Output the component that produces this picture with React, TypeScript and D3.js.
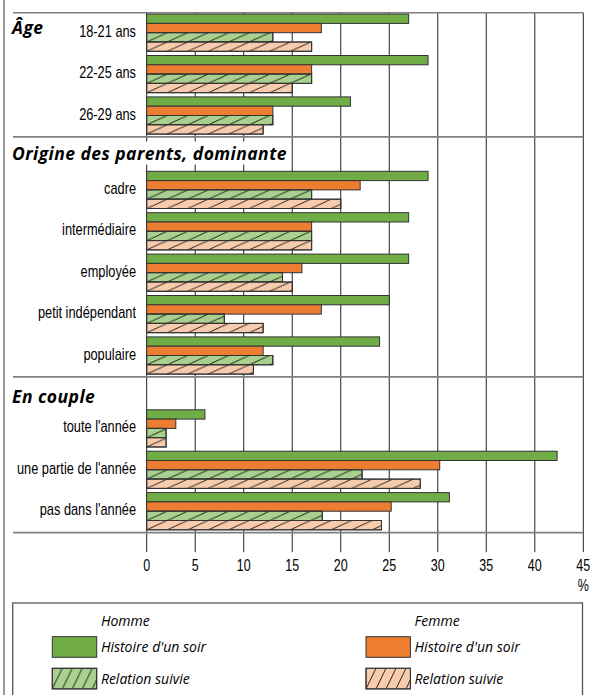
import React from "react";
import * as d3 from "d3";

// ---------- data ----------
const sectionTitles = ["Âge", "Origine des parents, dominante", "En couple"];
const categories = [
  "18-21 ans", "22-25 ans", "26-29 ans",
  "cadre", "intermédiaire", "employée", "petit indépendant", "populaire",
  "toute l'année", "une partie de l'année", "pas dans l'année",
];
const categorySection = [0, 0, 0, 1, 1, 1, 1, 1, 2, 2, 2];
const hommeSoir = [27, 29, 21, 29, 27, 27, 25, 24, 6, 42.3, 31.2];
const femmeSoir = [18, 17, 13, 22, 17, 16, 18, 12, 3, 30.2, 25.2];
const hommeSuivie = [13, 17, 13, 17, 17, 14, 8, 13, 2, 22.2, 18.1];
const femmeSuivie = [17, 15, 12, 20, 17, 15, 12, 11, 2, 28.2, 24.2];
const xTicks = [0, 5, 10, 15, 20, 25, 30, 35, 40, 45];
const unitLabel = "%";
const legendGroups = ["Homme", "Femme"];
const seriesNames = ["Histoire d'un soir", "Relation suivie"];

// ---------- style ----------
const COLORS = { hSoir: "#70AD47", fSoir: "#ED7D31", hSuivie: "#A9D08E", fSuivie: "#F8CBAD" };
const LABEL_FONT = "'Liberation Sans', Arial, sans-serif";
const TITLE_FONT = "'Open Sans', sans-serif";
const LEGEND_FONT = "'Open Sans', sans-serif";

const W = 591;
const H = 695;

function NarrowText(props: { x: number; y: number; anchor: string; size: number; sx: number; children: React.ReactNode }) {
  return (
    <g transform={`translate(${props.x},${props.y}) scale(${props.sx},1)`}>
      <text x={0} y={0} textAnchor={props.anchor} fontFamily={LABEL_FONT} fontSize={props.size} fill="#000">
        {props.children}
      </text>
    </g>
  );
}

export default function App() {
  const x = d3.scaleLinear().domain([0, 45]).range([146.7, 583.3]);
  const BAND = 41.4;
  const headers = [0, 33, 31.5];
  const titleOffsets = [20.8, 22.6, 26.0];
  const titleBg = [34, 280, 90];
  const TOP = 12.7;
  const sub = d3.scaleBand<number>().domain([0, 1, 2, 3]).range([1.4, 1.4 + 37.2]);

  const series = [
    { values: hommeSoir, fill: COLORS.hSoir, hatch: false },
    { values: femmeSoir, fill: COLORS.fSoir, hatch: false },
    { values: hommeSuivie, fill: COLORS.hSuivie, hatch: true },
    { values: femmeSuivie, fill: COLORS.fSuivie, hatch: true },
  ];

  // section layout
  const sectionTops: number[] = [];
  const catY: number[] = new Array(categories.length).fill(0);
  let cur = TOP;
  sectionTitles.forEach((_, s) => {
    sectionTops.push(cur);
    cur += headers[s];
    const cats = categories.filter((_, i) => categorySection[i] === s);
    const band = d3.scaleBand<string>().domain(cats).range([cur, cur + cats.length * BAND]);
    categories.forEach((c, i) => {
      if (categorySection[i] === s) catY[i] = band(c) as number;
    });
    cur += cats.length * BAND;
  });
  const bottom = cur;
  sectionTops.push(bottom);

  const x0 = x(0);
  const xMax = x(45);
  const bh = sub.bandwidth();

  const patterns: JSX.Element[] = [];
  const bars: JSX.Element[] = [];
  categories.forEach((c, i) => {
    series.forEach((s, j) => {
      const y = catY[i] + (sub(j) as number);
      const w = x(s.values[i]) - x0;
      bars.push(
        <rect key={`b${i}-${j}`} x={x0} y={y} width={w} height={bh} fill={s.fill} stroke="#333" strokeWidth={1} />
      );
      if (s.hatch) {
        const id = `hp${i}-${j}`;
        patterns.push(
          <pattern key={id} id={id} patternUnits="userSpaceOnUse" x={x0} y={y} width={20.5} height={bh}>
            <line x1={0} y1={bh} x2={20.5} y2={0} stroke="#111" strokeWidth={0.9} />
          </pattern>
        );
        bars.push(
          <rect key={`h${i}-${j}`} x={x0} y={y} width={w} height={bh} fill={`url(#${id})`} stroke="#333" strokeWidth={1} />
        );
      }
    });
  });

  // legend layout
  const legendX = [52.3, 366];
  const swW = 44.4;
  const swH = 20.6;
  const legendRows = [636.7, 668.3];
  const legendItems = [
    [COLORS.hSoir, COLORS.hSuivie],
    [COLORS.fSoir, COLORS.fSuivie],
  ];

  return (
    <svg width={W} height={H} style={{ position: "absolute", left: 0, top: 0, background: "#fff" }}>
      <defs>
        {patterns}
        <pattern id="legHatch0" patternUnits="userSpaceOnUse" x={legendX[0]} y={legendRows[1]} width={10} height={swH}>
          <line x1={0} y1={swH} x2={10} y2={0} stroke="#111" strokeWidth={0.9} />
        </pattern>
        <pattern id="legHatch1" patternUnits="userSpaceOnUse" x={legendX[1]} y={legendRows[1]} width={10} height={swH}>
          <line x1={0} y1={swH} x2={10} y2={0} stroke="#111" strokeWidth={0.9} />
        </pattern>
      </defs>

      {/* left frame line */}
      <line x1={4} y1={0} x2={4} y2={H} stroke="#666" strokeWidth={1.3} />

      {/* gridlines */}
      {xTicks.map((t) => (
        <line key={`g${t}`} x1={x(t)} x2={x(t)} y1={TOP} y2={bottom + 19.5} stroke="#222" strokeWidth={1} />
      ))}

      {/* section separators */}
      {sectionTops.map((y, k) => (
        <line key={`s${k}`} x1={13} x2={xMax} y1={y} y2={y} stroke="#7f7f7f" strokeWidth={1.6} />
      ))}

      {/* section titles */}
      {sectionTitles.map((t, s) => (
        <g key={`t${s}`}>
          <rect x={8} y={sectionTops[s] + titleOffsets[s] - 18} width={titleBg[s]} height={23} fill="#fff" />
          <text x={12} y={sectionTops[s] + titleOffsets[s]} fontFamily={TITLE_FONT} fontWeight="bold" fontStyle="italic" fontSize={17.5} letterSpacing={0.45} fill="#000">
            {t}
          </text>
        </g>
      ))}

      {/* category labels */}
      {categories.map((c, i) => (
        <NarrowText key={`c${i}`} x={136} y={catY[i] + 1.4 + 18.6 + 4} anchor="end" size={16} sx={0.8}>
          {c}
        </NarrowText>
      ))}

      {bars}

      {/* tick labels */}
      {xTicks.map((t) => (
        <NarrowText key={`tl${t}`} x={x(t)} y={570.5} anchor="middle" size={16} sx={0.78}>
          {t}
        </NarrowText>
      ))}
      <NarrowText x={xMax} y={591} anchor="middle" size={16} sx={0.78}>
        {unitLabel}
      </NarrowText>

      {/* legend */}
      <rect x={12.7} y={603} width={582.5 - 12.7} height={120} fill="none" stroke="#555" strokeWidth={1.3} />
      {legendGroups.map((g, k) => (
        <g key={`lg${k}`}>
          <text x={legendX[k] + 48.6} y={625.7} fontFamily={LEGEND_FONT} fontStyle="italic" fontSize={14} fill="#000">
            {g}
          </text>
          {seriesNames.map((n, r) => (
            <g key={`li${k}-${r}`}>
              <rect x={legendX[k]} y={legendRows[r]} width={swW} height={swH} fill={legendItems[k][r]} stroke="#333" strokeWidth={1} />
              {r === 1 && (
                <rect x={legendX[k]} y={legendRows[r]} width={swW} height={swH} fill={`url(#legHatch${k})`} stroke="#333" strokeWidth={1} />
              )}
              <text x={legendX[k] + 48.6} y={legendRows[r] + 15.3} fontFamily={LEGEND_FONT} fontStyle="italic" fontSize={14} fill="#000">
                {n}
              </text>
            </g>
          ))}
        </g>
      ))}
    </svg>
  );
}
